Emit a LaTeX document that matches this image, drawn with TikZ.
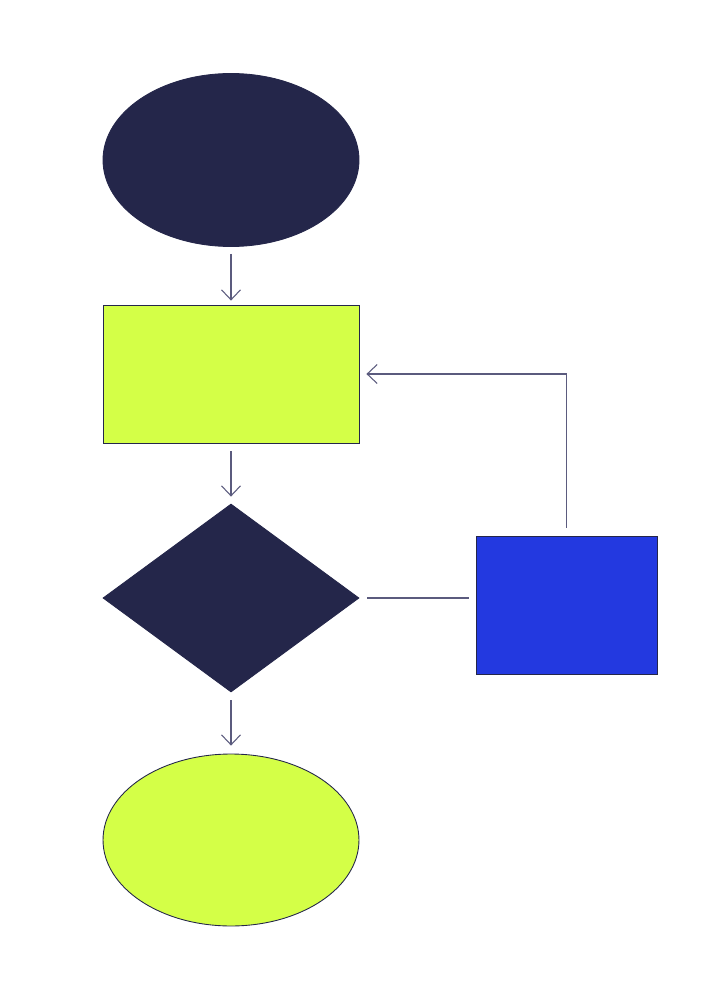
\documentclass[tikz,border=0pt]{standalone}
\usepackage{tikz}
\usetikzlibrary{shapes.geometric}
\usetikzlibrary{arrows.meta}

\begin{document}
\begin{tikzpicture}[x=0.02cm, y=-0.02cm]

\definecolor{navy}{HTML}{24264A}
\definecolor{lime}{HTML}{D4FF47}
\definecolor{royal}{HTML}{2339E0}
\definecolor{wire}{HTML}{5B5B7E}

\tikzset{flow/.style={draw=wire, line width=0.6pt, -{Straight Barb[length=0.2cm, width=0.38cm]}}}
\tikzset{link/.style={draw=wire, line width=0.6pt}}

\useasboundingbox (0,0) rectangle (727,1000);

\node[ellipse, fill=navy, draw=navy, line width=0.5pt, inner sep=0pt, minimum width=5.12cm, minimum height=3.46cm] (start) at (231,160) {};

\node[rectangle, fill=lime, draw=navy, line width=0.5pt, inner sep=0pt, minimum width=5.12cm, minimum height=2.76cm] (process) at (231,374) {};

\node[diamond, fill=navy, draw=navy, line width=0.5pt, inner sep=0pt, minimum width=5.12cm, minimum height=3.76cm] (decision) at (231,598) {};

\node[ellipse, fill=lime, draw=navy, line width=0.5pt, inner sep=0pt, minimum width=5.12cm, minimum height=3.44cm] (stop) at (231,840) {};

\node[rectangle, fill=royal, draw=navy, line width=0.5pt, inner sep=0pt, minimum width=3.62cm, minimum height=2.76cm] (fix) at (566.5,605) {};

\draw[flow, shorten <=0.14cm, shorten >=0.08cm] (start) -- (process);
\draw[flow, shorten <=0.16cm, shorten >=0.14cm] (process) -- (decision);
\draw[flow, shorten <=0.16cm, shorten >=0.16cm] (decision) -- (stop);

\draw[link, shorten <=0.16cm, shorten >=0.14cm] (decision.east) -- (decision.east -| fix.west);
\draw[flow, shorten <=0.16cm, shorten >=0.14cm] (fix.north) |- (process.east);

\end{tikzpicture}
\end{document}
